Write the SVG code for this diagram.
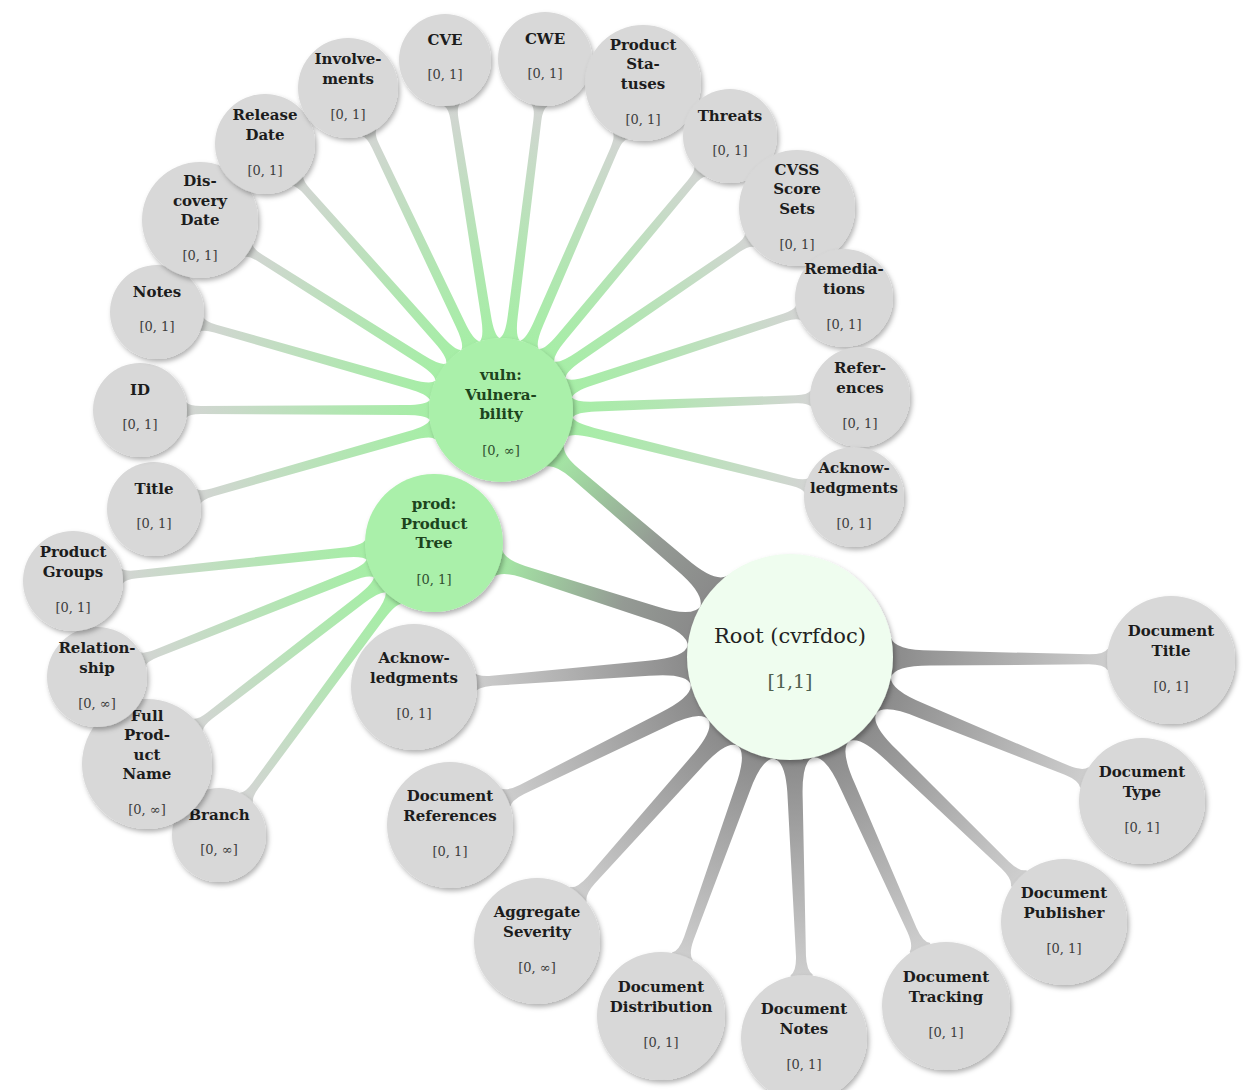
<svg xmlns="http://www.w3.org/2000/svg" width="1254" height="1090" viewBox="0 0 1254 1090">
<defs>
<style>
.leaf{fill:#d8d8d8;filter:url(#sh)}
.green{fill:#aaf0aa;filter:url(#sh)}
.rootc{fill:#effdef;filter:url(#sh)}
.l{font-family:"DejaVu Serif",serif;font-weight:bold;font-size:15px;fill:#1c1c1c;text-anchor:middle}
.c{font-family:"DejaVu Serif",serif;font-size:13px;fill:#3c3c3c;text-anchor:middle}
.gl{fill:#1d441d}
.gc{fill:#2f4f2f}
.rt{font-family:"DejaVu Serif",serif;font-size:21px;fill:#222222;text-anchor:middle}
.rc{font-family:"DejaVu Serif",serif;font-size:19px;fill:#4f604f;text-anchor:middle}
.br{fill:url(#gR)}
.bv{fill:url(#gV)}
.bg{fill:url(#gRG)}
</style>
<linearGradient id="gR" x1="0" y1="0" x2="1" y2="0"><stop offset="0" stop-color="#8a8a8a"/><stop offset="1" stop-color="#d0d0d0"/></linearGradient>
<linearGradient id="gV" x1="0" y1="0" x2="1" y2="0"><stop offset="0" stop-color="#a6eea6"/><stop offset="0.35" stop-color="#b2e6b2"/><stop offset="1" stop-color="#d4d4d4"/></linearGradient>
<linearGradient id="gRG" x1="0" y1="0" x2="1" y2="0"><stop offset="0" stop-color="#8a8a8a"/><stop offset="0.35" stop-color="#949a94"/><stop offset="1" stop-color="#a6eea6"/></linearGradient>
<filter id="sh" x="-20%" y="-20%" width="150%" height="150%"><feDropShadow dx="2" dy="3" stdDeviation="2.5" flood-color="#000" flood-opacity="0.3"/></filter>
<path id="rb" d="M101,-20 Q104,-7.5 142,-7.5 L299,-5 Q314,-5 318,-11 L325,-11 L325,11 L318,11 Q314,5 299,5 L142,7.5 Q104,7.5 101,20 Z"/>
</defs>
<rect width="1254" height="1090" fill="#ffffff"/>

<g id="connectors">
<use href="#rb" class="br" transform="translate(790 657) rotate(0.45)"/>
<use href="#rb" class="br" transform="translate(790 657) rotate(22.25)"/>
<use href="#rb" class="br" transform="translate(790 657) rotate(44.04)"/>
<use href="#rb" class="br" transform="translate(790 657) rotate(65.92)"/>
<use href="#rb" class="br" transform="translate(790 657) rotate(87.9)"/>
<use href="#rb" class="br" transform="translate(790 657) rotate(109.77)"/>
<use href="#rb" class="br" transform="translate(790 657) rotate(131.7)"/>
<use href="#rb" class="br" transform="translate(790 657) rotate(153.7)"/>
<use href="#rb" class="br" transform="translate(790 657) rotate(175.44)"/>
<path class="bg" transform="translate(790 657) rotate(-139.48)" d="M100,-22 Q104,-7.5 142,-7.5 L283,-6 Q304,-6 309.5,-14 L318,-14 L318,14 L309.5,14 Q304,6 283,6 L142,7.5 Q104,7.5 100,22 Z"/>
<path class="bg" transform="translate(790 657) rotate(-162.24)" d="M100,-22 Q104,-7.5 142,-7.5 L280,-6 Q301,-6 306.5,-14 L315,-14 L315,14 L306.5,14 Q301,6 280,6 L142,7.5 Q104,7.5 100,22 Z"/>
<path class="bv" transform="translate(501 410) rotate(164.08)" d="M71.3,-10 Q75,-5 95,-5 L300,-4 Q312,-4 315,-8 L320,-8 L320,8 L315,8 Q312,4 300,4 L95,5 Q75,5 71.3,10 Z"/>
<path class="bv" transform="translate(501 410) rotate(180)" d="M71.3,-10 Q75,-5 95,-5 L300,-4 Q312,-4 315,-8 L320,-8 L320,8 L315,8 Q312,4 300,4 L95,5 Q75,5 71.3,10 Z"/>
<path class="bv" transform="translate(501 410) rotate(-164.1)" d="M71.3,-10 Q75,-5 95,-5 L297,-4 Q309,-4 312,-8 L317,-8 L317,8 L312,8 Q309,4 297,4 L95,5 Q75,5 71.3,10 Z"/>
<path class="bv" transform="translate(501 410) rotate(-147.74)" d="M71.3,-10 Q75,-5 95,-5 L284,-4 Q296,-4 299,-8 L304,-8 L304,8 L299,8 Q296,4 284,4 L95,5 Q75,5 71.3,10 Z"/>
<path class="bv" transform="translate(501 410) rotate(-131.58)" d="M71.3,-10 Q75,-5 95,-5 L292,-4 Q304,-4 307,-8 L312,-8 L312,8 L307,8 Q304,4 292,4 L95,5 Q75,5 71.3,10 Z"/>
<path class="bv" transform="translate(501 410) rotate(-115.42)" d="M71.3,-10 Q75,-5 95,-5 L292,-4 Q304,-4 307,-8 L312,-8 L312,8 L307,8 Q304,4 292,4 L95,5 Q75,5 71.3,10 Z"/>
<path class="bv" transform="translate(501 410) rotate(-99.09)" d="M71.3,-10 Q75,-5 95,-5 L294,-4 Q306,-4 309,-8 L314,-8 L314,8 L309,8 Q306,4 294,4 L95,5 Q75,5 71.3,10 Z"/>
<path class="bv" transform="translate(501 410) rotate(-82.85)" d="M71.3,-10 Q75,-5 95,-5 L292,-4 Q304,-4 307,-8 L312,-8 L312,8 L307,8 Q304,4 292,4 L95,5 Q75,5 71.3,10 Z"/>
<path class="bv" transform="translate(501 410) rotate(-66.53)" d="M71.3,-10 Q75,-5 95,-5 L284,-4 Q296,-4 299,-8 L304,-8 L304,8 L299,8 Q296,4 284,4 L95,5 Q75,5 71.3,10 Z"/>
<path class="bv" transform="translate(501 410) rotate(-50.11)" d="M71.3,-10 Q75,-5 95,-5 L296,-4 Q308,-4 311,-8 L316,-8 L316,8 L311,8 Q308,4 296,4 L95,5 Q75,5 71.3,10 Z"/>
<path class="bv" transform="translate(501 410) rotate(-34.31)" d="M71.3,-10 Q75,-5 95,-5 L286,-4 Q298,-4 301,-8 L306,-8 L306,8 L301,8 Q298,4 286,4 L95,5 Q75,5 71.3,10 Z"/>
<path class="bv" transform="translate(501 410) rotate(-18.08)" d="M71.3,-10 Q75,-5 95,-5 L298,-4 Q310,-4 313,-8 L318,-8 L318,8 L313,8 Q310,4 298,4 L95,5 Q75,5 71.3,10 Z"/>
<path class="bv" transform="translate(501 410) rotate(-2.07)" d="M71.3,-10 Q75,-5 95,-5 L295,-4 Q307,-4 310,-8 L315,-8 L315,8 L310,8 Q307,4 295,4 L95,5 Q75,5 71.3,10 Z"/>
<path class="bv" transform="translate(501 410) rotate(13.85)" d="M71.3,-10 Q75,-5 95,-5 L300,-4 Q312,-4 315,-8 L320,-8 L320,8 L315,8 Q312,4 300,4 L95,5 Q75,5 71.3,10 Z"/>
<path class="bv" transform="translate(434 543) rotate(173.99)" d="M68.3,-10 Q72,-5 92,-5 L299,-4 Q311,-4 314,-8 L319,-8 L319,8 L314,8 Q311,4 299,4 L92,5 Q72,5 68.3,10 Z"/>
<path class="bv" transform="translate(434 543) rotate(158.3)" d="M68.3,-10 Q72,-5 92,-5 L299,-4 Q311,-4 314,-8 L319,-8 L319,8 L314,8 Q311,4 299,4 L92,5 Q72,5 68.3,10 Z"/>
<path class="bv" transform="translate(434 543) rotate(142.4)" d="M68.3,-10 Q72,-5 92,-5 L283,-4 Q295,-4 298,-8 L303,-8 L303,8 L298,8 Q295,4 283,4 L92,5 Q72,5 68.3,10 Z"/>
<path class="bv" transform="translate(434 543) rotate(126.36)" d="M68.3,-10 Q72,-5 92,-5 L301,-4 Q313,-4 316,-8 L321,-8 L321,8 L316,8 Q313,4 301,4 L92,5 Q72,5 68.3,10 Z"/>
</g>

<g id="root"><circle class="rootc" cx="790" cy="657" r="103"/><text class="rt" x="790" y="643">Root (cvrfdoc)</text><text class="rc" x="790" y="688">[1,1]</text></g>

<g id="doc-title"><circle class="leaf" cx="1171" cy="660" r="64"/><text class="l" x="1171" y="636">Document</text><text class="l" x="1171" y="656">Title</text><text class="c" x="1171" y="691">[0, 1]</text></g>
<g id="doc-type"><circle class="leaf" cx="1142" cy="801" r="63"/><text class="l" x="1142" y="777">Document</text><text class="l" x="1142" y="797">Type</text><text class="c" x="1142" y="832">[0, 1]</text></g>
<g id="doc-publisher"><circle class="leaf" cx="1064" cy="922" r="63"/><text class="l" x="1064" y="898">Document</text><text class="l" x="1064" y="918">Publisher</text><text class="c" x="1064" y="953">[0, 1]</text></g>
<g id="doc-tracking"><circle class="leaf" cx="946" cy="1006" r="64"/><text class="l" x="946" y="982">Document</text><text class="l" x="946" y="1002">Tracking</text><text class="c" x="946" y="1037">[0, 1]</text></g>
<g id="doc-notes"><circle class="leaf" cx="804" cy="1038" r="63"/><text class="l" x="804" y="1014">Document</text><text class="l" x="804" y="1034">Notes</text><text class="c" x="804" y="1069">[0, 1]</text></g>
<g id="doc-distribution"><circle class="leaf" cx="661" cy="1016" r="64"/><text class="l" x="661" y="992">Document</text><text class="l" x="661" y="1012">Distribution</text><text class="c" x="661" y="1047">[0, 1]</text></g>
<g id="aggregate-severity"><circle class="leaf" cx="537" cy="941" r="63"/><text class="l" x="537" y="917">Aggregate</text><text class="l" x="537" y="937">Severity</text><text class="c" x="537" y="972">[0, ∞]</text></g>
<g id="doc-references"><circle class="leaf" cx="450" cy="825" r="63"/><text class="l" x="450" y="801">Document</text><text class="l" x="450" y="821">References</text><text class="c" x="450" y="856">[0, 1]</text></g>
<g id="root-ack"><circle class="leaf" cx="414" cy="687" r="63"/><text class="l" x="414" y="663">Acknow-</text><text class="l" x="414" y="683">ledgments</text><text class="c" x="414" y="718">[0, 1]</text></g>

<g id="prod-branch"><circle class="leaf" cx="219" cy="835" r="47"/><text class="l" x="219" y="820">Branch</text><text class="c" x="219" y="854">[0, ∞]</text></g>
<g id="prod-fpn"><circle class="leaf" cx="147" cy="764" r="65"/><text class="l" x="147" y="721">Full</text><text class="l" x="147" y="740">Prod-</text><text class="l" x="147" y="760">uct</text><text class="l" x="147" y="779">Name</text><text class="c" x="147" y="814">[0, ∞]</text></g>
<g id="prod-relationship"><circle class="leaf" cx="97" cy="677" r="50"/><text class="l" x="97" y="653">Relation-</text><text class="l" x="97" y="673">ship</text><text class="c" x="97" y="708">[0, ∞]</text></g>
<g id="prod-groups"><circle class="leaf" cx="73" cy="581" r="50"/><text class="l" x="73" y="557">Product</text><text class="l" x="73" y="577">Groups</text><text class="c" x="73" y="612">[0, 1]</text></g>

<g id="vuln-title"><circle class="leaf" cx="154" cy="509" r="47"/><text class="l" x="154" y="494">Title</text><text class="c" x="154" y="528">[0, 1]</text></g>
<g id="vuln-id"><circle class="leaf" cx="140" cy="410" r="47"/><text class="l" x="140" y="395">ID</text><text class="c" x="140" y="429">[0, 1]</text></g>
<g id="vuln-notes"><circle class="leaf" cx="157" cy="312" r="47"/><text class="l" x="157" y="297">Notes</text><text class="c" x="157" y="331">[0, 1]</text></g>
<g id="vuln-discovery"><circle class="leaf" cx="200" cy="220" r="58"/><text class="l" x="200" y="186">Dis-</text><text class="l" x="200" y="206">covery</text><text class="l" x="200" y="225">Date</text><text class="c" x="200" y="260">[0, 1]</text></g>
<g id="vuln-release"><circle class="leaf" cx="265" cy="144" r="50"/><text class="l" x="265" y="120">Release</text><text class="l" x="265" y="140">Date</text><text class="c" x="265" y="175">[0, 1]</text></g>
<g id="vuln-involvements"><circle class="leaf" cx="348" cy="88" r="50"/><text class="l" x="348" y="64">Involve-</text><text class="l" x="348" y="84">ments</text><text class="c" x="348" y="119">[0, 1]</text></g>
<g id="vuln-cve"><circle class="leaf" cx="445" cy="60" r="46"/><text class="l" x="445" y="45">CVE</text><text class="c" x="445" y="79">[0, 1]</text></g>
<g id="vuln-cwe"><circle class="leaf" cx="545" cy="59" r="47"/><text class="l" x="545" y="44">CWE</text><text class="c" x="545" y="78">[0, 1]</text></g>
<g id="vuln-product-statuses"><circle class="leaf" cx="643" cy="83" r="58"/><text class="l" x="643" y="50">Product</text><text class="l" x="643" y="69">Sta-</text><text class="l" x="643" y="89">tuses</text><text class="c" x="643" y="124">[0, 1]</text></g>
<g id="vuln-threats"><circle class="leaf" cx="730" cy="136" r="47"/><text class="l" x="730" y="121">Threats</text><text class="c" x="730" y="155">[0, 1]</text></g>
<g id="vuln-cvss"><circle class="leaf" cx="797" cy="208" r="58"/><text class="l" x="797" y="175">CVSS</text><text class="l" x="797" y="194">Score</text><text class="l" x="797" y="214">Sets</text><text class="c" x="797" y="249">[0, 1]</text></g>
<g id="vuln-remediations"><circle class="leaf" cx="844" cy="298" r="49"/><text class="l" x="844" y="274">Remedia-</text><text class="l" x="844" y="294">tions</text><text class="c" x="844" y="329">[0, 1]</text></g>
<g id="vuln-references"><circle class="leaf" cx="860" cy="397" r="50"/><text class="l" x="860" y="373">Refer-</text><text class="l" x="860" y="393">ences</text><text class="c" x="860" y="428">[0, 1]</text></g>
<g id="vuln-ack"><circle class="leaf" cx="854" cy="497" r="50"/><text class="l" x="854" y="473">Acknow-</text><text class="l" x="854" y="493">ledgments</text><text class="c" x="854" y="528">[0, 1]</text></g>

<g id="vuln"><circle class="green" cx="501" cy="410" r="72"/><text class="l gl" x="501" y="380">vuln:</text><text class="l gl" x="501" y="400">Vulnera-</text><text class="l gl" x="501" y="419">bility</text><text class="c gc" x="501" y="455">[0, ∞]</text></g>
<g id="prod"><circle class="green" cx="434" cy="543" r="69"/><text class="l gl" x="434" y="509">prod:</text><text class="l gl" x="434" y="529">Product</text><text class="l gl" x="434" y="548">Tree</text><text class="c gc" x="434" y="584">[0, 1]</text></g>
</svg>
